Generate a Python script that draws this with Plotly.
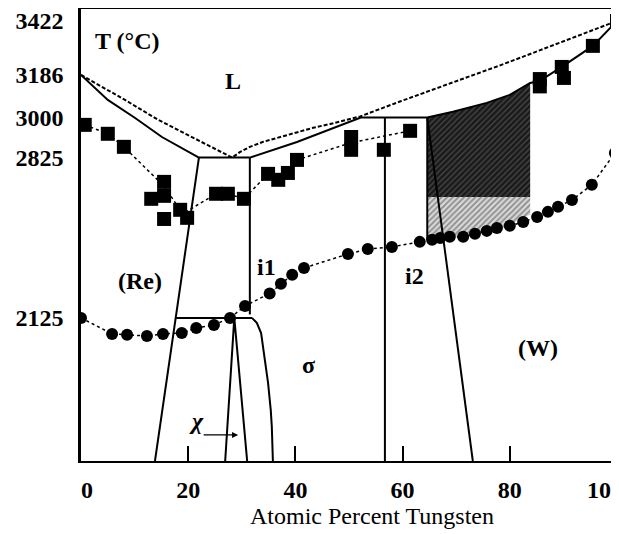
import plotly.graph_objects as go

FONT = "Liberation Serif"
EN = "\u2002"  # en space, used to nudge the edge tick labels like the original

# ---------------- tick labels ----------------
x_ticks = [0, 20, 40, 60, 80, 100]
x_ticktext = [EN + "0", "20", "40", "60", "80", "100" + EN + EN]
y_ticks = [2125, 2825, 3000, 3186, 3422]
x_title = "Atomic Percent Tungsten"

# ---------------- phase boundaries (at.% W, °C) ----------------
liq_re_x = [0, 5.0, 10.1, 15.1, 22.0]
liq_re_T = [3186, 3077, 2998, 2915, 2825]

peri_sigma_x = [22.0, 31.5]
peri_sigma_T = [2825, 2825]

re_solvus_x = [22.0, 17.7, 13.8]
re_solvus_T = [2825, 2125, 1500]

liq_w_x = [31.5, 40.3, 52.2, 64.6, 69.4, 75.7, 80.0, 83.8, 85.6, 89.7, 95.5, 100]
liq_w_T = [2825, 2893, 3000, 3000, 3025, 3064, 3099, 3151, 3160, 3221, 3313, 3422]

i1_x = [31.5, 31.5]
i1_T = [2825, 2140]

eutectoid_x = [17.7, 31.9]
eutectoid_T = [2125, 2125]

sigma_x = [31.9, 32.8, 33.6, 34.1, 34.9, 35.4, 35.6, 35.8]
sigma_T = [2125, 2103, 2059, 1972, 1841, 1723, 1649, 1500]

chi_x = [26.9, 28.6, 31.0]
chi_T = [1500, 2125, 1500]

sigma_i2_x = [56.7, 56.7]
sigma_i2_T = [3000, 1500]

i2_w_x = [64.6, 73.1]
i2_w_T = [3000, 1500]

shade_edge_x = [64.6, 64.6]
shade_edge_T = [3000, 2466]

# calculated liquidus (dotted)
calc_liq_x = [0, 8.2, 14.4, 20.7, 28.2, 29.7, 31.5, 34.0, 37.1, 40.3, 43.3, 46.5, 49.6,
              52.1, 59.5, 65.7, 72.0, 78.2, 84.3, 90.7, 96.8, 100]
calc_liq_T = [3186, 3077, 2990, 2915, 2825, 2850, 2872, 2894, 2915, 2937, 2955, 2972, 2990,
              3005, 3070, 3122, 3175, 3228, 3282, 3338, 3392, 3422]

# shaded two-phase region
dark_x = [64.6, 69.4, 75.7, 80.0, 83.8, 83.8, 64.6]
dark_T = [3000, 3025, 3064, 3099, 3151, 2653, 2653]
light_x = [64.6, 83.8, 83.8, 80.0, 75.0, 70.0, 64.6]
light_T = [2653, 2653, 2575, 2535, 2505, 2482, 2470]

# experimental points: squares (liquidus/solidus)
sq_x = [0.7, 5.0, 8.0, 15.5, 15.5, 13.1, 15.5, 18.5, 19.8, 25.2, 27.4, 30.4, 34.9, 36.8,
        38.6, 40.3, 50.4, 50.4, 56.5, 61.4, 85.6, 85.6, 89.7, 90.1, 95.5, 100]
sq_T = [2968, 2929, 2872, 2719, 2658, 2645, 2557, 2597, 2562, 2667, 2667, 2645, 2754, 2728,
        2758, 2815, 2915, 2859, 2859, 2942, 3168, 3136, 3221, 3173, 3313, 3422]
# dotted guide through squares
sqline_x = [0.7, 5.0, 8.0, 15.5, 19.0, 25.2, 27.4, 30.4, 34.9, 36.8, 38.6, 40.3, 50.4, 61.4]
sqline_T = [2968, 2929, 2872, 2700, 2580, 2667, 2667, 2645, 2754, 2728, 2758, 2815, 2890, 2942]

# experimental points: circles
ci_x = [0, 5.8, 8.6, 12.3, 15.3, 18.8, 21.5, 24.8, 27.8, 30.6, 35.2, 37.3, 39.4, 41.6,
        49.8, 53.5, 58.0, 63.2, 65.5, 67.0, 68.8, 71.3, 73.5, 75.7, 77.6, 80.0, 82.5,
        85.1, 87.1, 89.0, 91.6, 95.3, 99.6]
ci_T = [2125, 2055, 2051, 2046, 2055, 2059, 2081, 2094, 2125, 2177, 2232, 2274, 2313, 2343,
        2404, 2426, 2435, 2457, 2466, 2474, 2479, 2479, 2492, 2505, 2518, 2527, 2544,
        2566, 2588, 2610, 2640, 2706, 2845]

# region labels
lab_text = ["T (°C)", "L", "(Re)", "i1", "σ", "i2", "(W)", "<i>χ</i>"]
lab_x = [8.6, 28.4, 11.0, 34.7, 42.4, 62.3, 85.3, 21.6]
lab_T = [3335, 3160, 2287, 2348, 1920, 2308, 1994, 1673]

fig = go.Figure()

fig.add_trace(go.Scatter(x=dark_x, y=dark_T, mode="none", fill="toself",
                         fillpattern=dict(shape="/", bgcolor="#1a1a1a", fgcolor="#777777",
                                          size=4, solidity=0.3)))
fig.add_trace(go.Scatter(x=light_x, y=light_T, mode="none", fill="toself",
                         fillpattern=dict(shape="/", bgcolor="#d8d8d8", fgcolor="#404040",
                                          size=4, solidity=0.45)))

solid = dict(color="black", width=2)
for xs, ts in [(liq_re_x, liq_re_T), (peri_sigma_x, peri_sigma_T), (re_solvus_x, re_solvus_T),
               (liq_w_x, liq_w_T), (i1_x, i1_T), (eutectoid_x, eutectoid_T),
               (sigma_x, sigma_T), (chi_x, chi_T), (sigma_i2_x, sigma_i2_T),
               (i2_w_x, i2_w_T), (shade_edge_x, shade_edge_T)]:
    fig.add_trace(go.Scatter(x=xs, y=ts, mode="lines", line=solid, hoverinfo="skip"))

fig.add_trace(go.Scatter(x=calc_liq_x, y=calc_liq_T, mode="lines",
                         line=dict(color="black", width=2, dash="4px,2px")))
fig.add_trace(go.Scatter(x=sqline_x, y=sqline_T, mode="lines",
                         line=dict(color="black", width=1.5, dash="3px,3px")))
fig.add_trace(go.Scatter(x=ci_x, y=ci_T, mode="lines+markers",
                         line=dict(color="black", width=1.5, dash="3px,3px"),
                         marker=dict(symbol="circle", size=12, color="black")))
fig.add_trace(go.Scatter(x=sq_x, y=sq_T, mode="markers",
                         marker=dict(symbol="square", size=14, color="black")))

for t, x, y in zip(lab_text, lab_x, lab_T):
    fig.add_annotation(x=x, y=y, text="<b>" + t + "</b>", showarrow=False,
                       font=dict(family=FONT, size=24, color="black"))

# chi arrow
fig.add_annotation(x=29.3, y=1614, ax=22.6, ay=1614, axref="x", ayref="y",
                   text="", showarrow=True, arrowhead=2, arrowsize=1, arrowwidth=1.2,
                   arrowcolor="black")

# x-axis title (placed as in the original figure)
fig.add_annotation(xref="paper", yref="paper", x=0.543, y=0, yanchor="middle",
                   yshift=-55, text=x_title, showarrow=False,
                   font=dict(family=FONT, size=24, color="black"))

tickfont = dict(family=FONT, size=24, color="black", weight="bold")

# the page body adds an 8px offset, margins compensate for it
fig.update_layout(
    width=619, height=534,
    margin=dict(l=73, r=10, t=1, b=81),
    plot_bgcolor="white", paper_bgcolor="white",
    showlegend=False,
    font=dict(family=FONT, size=22, color="black"),
    xaxis=dict(range=[0, 100], tickvals=x_ticks, ticktext=x_ticktext, ticks="inside",
               ticklen=15, tickwidth=2, tickcolor="black", showline=True, linewidth=2,
               linecolor="black", mirror=True, showgrid=False, zeroline=False,
               ticklabelstandoff=6, ticklabeloverflow="allow", automargin=False,
               tickfont=tickfont),
    yaxis=dict(range=[1500, 3474], tickvals=y_ticks, ticks="", showline=True,
               linewidth=2.5, linecolor="black", showgrid=False, zeroline=False,
               ticklabelstandoff=10, automargin=False, tickfont=tickfont),
)

fig.write_html("out.html")
